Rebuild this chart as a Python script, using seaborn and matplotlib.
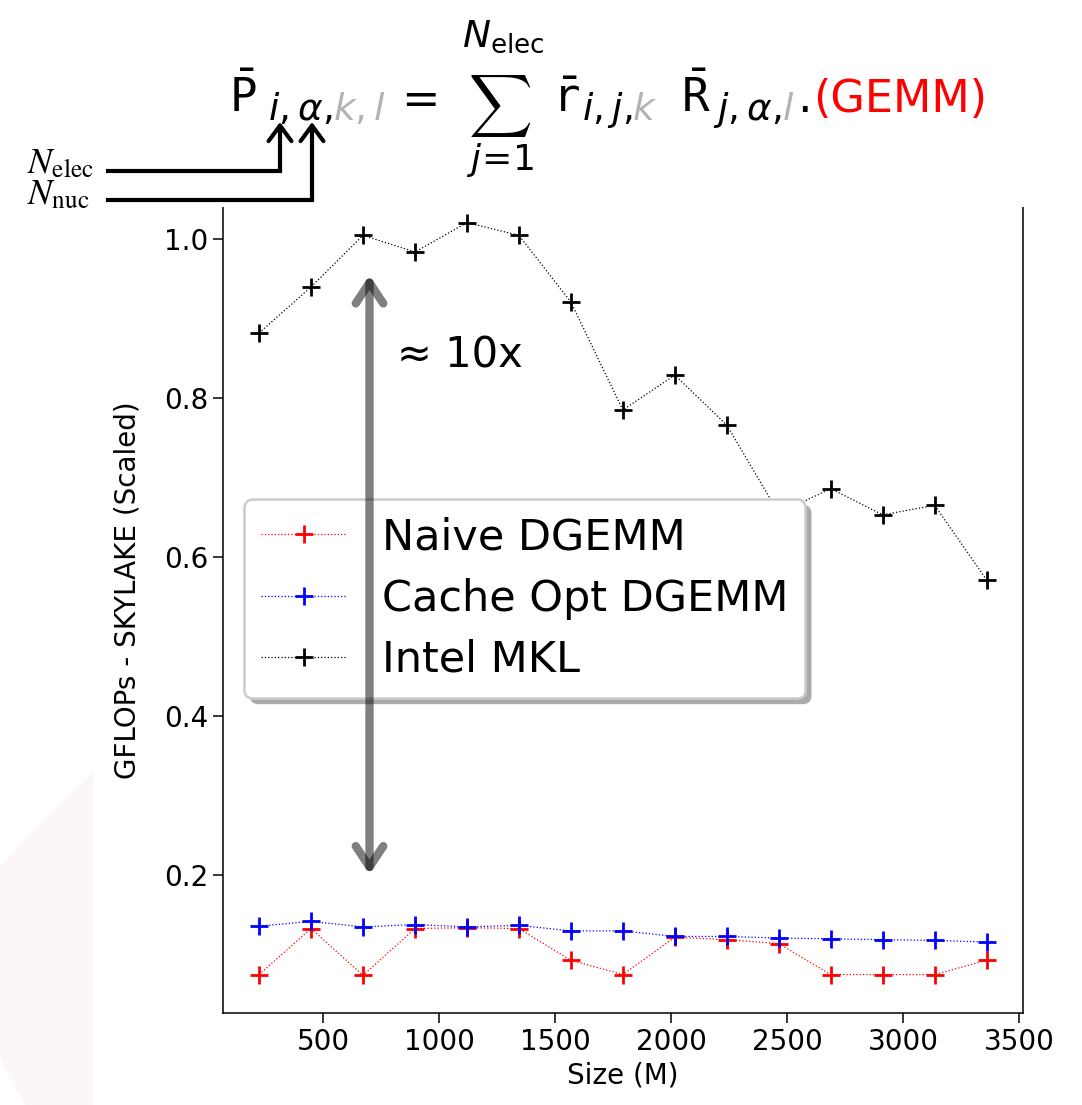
import numpy as np
import pandas as pd
import matplotlib
matplotlib.use("Agg")
import matplotlib.pyplot as plt
import seaborn as sns
from matplotlib.transforms import IdentityTransform
from matplotlib.patches import FancyBboxPatch, Polygon, Rectangle, FancyArrowPatch
from matplotlib.lines import Line2D

# ---------------- data ----------------
sizes = [224, 448, 672, 896, 1120, 1344, 1568, 1792, 2016, 2240, 2464, 2688, 2912, 3136, 3360]
naive = [0.074, 0.132, 0.073, 0.132, 0.133, 0.132, 0.092, 0.074, 0.121, 0.118, 0.113, 0.074, 0.074, 0.074, 0.092]
cache = [0.135, 0.141, 0.134, 0.137, 0.134, 0.136, 0.129, 0.129, 0.122, 0.122, 0.120, 0.119, 0.118, 0.117, 0.115]
mkl = [0.882, 0.940, 1.005, 0.984, 1.021, 1.005, 0.921, 0.785, 0.829, 0.766, 0.655, 0.686, 0.653, 0.665, 0.571]
series_labels = ["Naive DGEMM", "Cache Opt DGEMM", "Intel MKL"]
series_colors = ["red", "blue", "black"]
xticks = [500, 1000, 1500, 2000, 2500, 3000, 3500]
yticks = [0.2, 0.4, 0.6, 0.8, 1.0]
xlabel = "Size (M)"
ylabel = "GFLOPs - SKYLAKE (Scaled)"
arrow_x = 700
arrow_range = (0.2, 0.955)
speedup_text = "\u2248 10x"

# ---------------- style ----------------
sns.set_style("ticks", rc={"axes.edgecolor": "black", "xtick.color": "black",
                           "ytick.color": "black", "text.color": "black",
                           "axes.labelcolor": "black"})
plt.rcParams["font.family"] = ["DejaVu Sans"]
plt.rcParams["mathtext.fontset"] = "dejavusans"

W, H = 1082, 1105
fig = plt.figure(figsize=(W / 100, H / 100), dpi=100)
fig.patch.set_facecolor("white")

# faint decorative shape at lower left
fig.add_artist(Polygon([(93 / W, 1 - 772 / H), (0, 1 - 866 / H), (0, 1 - 1058 / H),
                        (25 / W, 0), (93 / W, 0)], closed=True,
                       transform=fig.transFigure, facecolor="#fcf6f6",
                       edgecolor="none", zorder=-1))

ax = fig.add_axes([222.7 / W, 92 / H, 800.3 / W, 828 / H])

df = pd.DataFrame({"size": sizes * 3,
                   "value": naive + cache + mkl,
                   "series": sum([[s] * len(sizes) for s in series_labels], [])})

for lab, col in zip(series_labels, series_colors):
    sub = df[df["series"] == lab]
    sns.lineplot(data=sub, x="size", y="value", ax=ax, color=col, marker="+",
                 linestyle=":", linewidth=0.9, markersize=13, markeredgewidth=2,
                 markeredgecolor=col, markerfacecolor=col, label=lab)

ax.set_xticks(xticks)
ax.set_yticks(yticks)
ax.set_xlabel(xlabel, fontsize=20)
ax.set_ylabel(ylabel, fontsize=20)
ax.yaxis.set_label_coords(-0.102, 0.511)
ax.tick_params(direction="out", length=7, width=1.1, labelsize=20,
               top=False, right=False)
ax.spines["top"].set_visible(False)
for s in ["left", "right", "bottom"]:
    ax.spines[s].set_linewidth(1.1)

handles, labels = ax.get_legend_handles_labels()
leg = ax.legend(handles, labels, loc="upper left", bbox_to_anchor=(0.0266, 0.6208),
                borderaxespad=0, fontsize=31, labelspacing=0.45, fancybox=True,
                framealpha=1, edgecolor="0.8")
leg.get_frame().set_linewidth(1.8)
leg.set_zorder(5)

ax.annotate("", xy=(arrow_x, arrow_range[1]), xytext=(arrow_x, arrow_range[0]),
            arrowprops=dict(arrowstyle="<->,head_length=0.5,head_width=0.33",
                            color="black", alpha=0.5, lw=6, mutation_scale=30,
                            shrinkA=0, shrinkB=0),
            zorder=6)
ax.text(819, 0.838, speedup_text, fontsize=30, ha="left", va="baseline", zorder=6)

# white cover over the top region (equation area)
fig.add_artist(Rectangle((0, 1 - 207 / H), 1, 207 / H, transform=fig.transFigure,
                         facecolor="white", edgecolor="none", zorder=1))

renderer = fig.canvas.get_renderer()
fig.canvas.draw()

# legend shadow
bb = leg.get_window_extent(renderer)
fs_px = 31 * 100 / 72
shadow = FancyBboxPatch((bb.x0 + 6, bb.y0 - 6), bb.width, bb.height,
                        boxstyle=f"round,pad=0,rounding_size={0.2 * fs_px}",
                        transform=IdentityTransform(), facecolor="0.67",
                        edgecolor="none", zorder=4.5)
ax.add_artist(shadow)


# ---------------- equation (typeset piece by piece) ----------------
def put(s, x, y_top, size, color="black", ha="left", va="baseline", **kw):
    t = fig.text(x / W, (H - y_top) / H, s, fontsize=size, color=color,
                 ha=ha, va=va, zorder=3, **kw)
    return t.get_window_extent(renderer).width


def put_seq(parts, x, y_top, size):
    for s, c in parts:
        x += put(s, x, y_top, size, c)
    return x


MAIN = 33
SUB = 27
BASE = 112
SUBBASE = 120
GRAY = "0.7"

put(r"$\bar{\mathtt{P}}$", 229, BASE, MAIN)
put_seq([(r"$i,\alpha,$", "black"), (r"$k,l$", GRAY)], 268, SUBBASE, SUB)
put(r"$=$", 393, BASE, MAIN)

tmp = fig.text(0, 0.5, r"$\sum$", fontsize=40, math_fontfamily="cm")
h40 = tmp.get_window_extent(renderer).height
tmp.remove()
put(r"$\sum$", 500, 106, 40 * 66 / h40, ha="center", va="center",
    math_fontfamily="cm")
put(r"$N_{\mathrm{elec}}$", 503, 47, 27, ha="center")
put(r"$j\!=\!1$", 500, 170, 26, ha="center")

put(r"$\bar{\mathtt{r}}$", 552, BASE, MAIN)
put_seq([(r"$i,j,$", "black"), (r"$k$", GRAY)], 582, SUBBASE, SUB)
put(r"$\bar{\mathtt{R}}$", 681, BASE, MAIN)
x_end = put_seq([(r"$j,\alpha,$", "black"), (r"$l$", GRAY)], 713, SUBBASE, SUB)
x_dot = max(797, x_end + 2)
put(".", x_dot, BASE, MAIN)
put("(GEMM)", x_dot + 16, BASE, 32, color="red")

# ---------------- index arrows ----------------
put(r"$N_{\mathrm{elec}}$", 27, 173, 26, math_fontfamily="stix")
put(r"$N_{\mathrm{nuc}}$", 27, 204, 26, math_fontfamily="stix")
for y_line, x_corner in [(171, 280), (200, 312)]:
    fig.add_artist(Line2D([108, x_corner], [H - y_line, H - y_line],
                          transform=IdentityTransform(), color="black", lw=3,
                          solid_capstyle="projecting", zorder=3))
    fig.add_artist(FancyArrowPatch((x_corner, H - y_line), (x_corner, H - 122),
                                   arrowstyle="->,head_length=0.45,head_width=0.33",
                                   mutation_scale=25, lw=3, color="black",
                                   shrinkA=0, shrinkB=0,
                                   transform=IdentityTransform(), zorder=3))

fig.savefig("out.png", dpi=100, facecolor="white")
